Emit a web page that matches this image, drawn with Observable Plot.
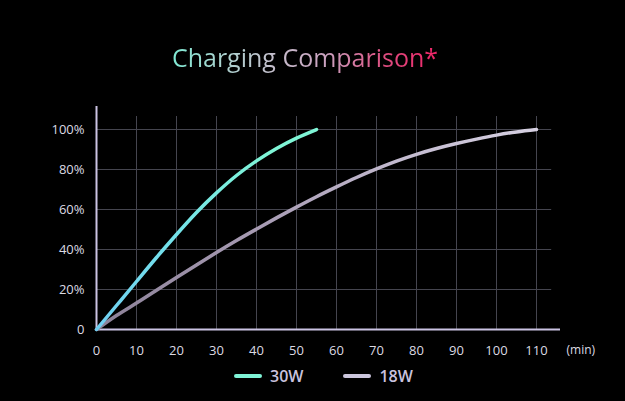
<!DOCTYPE html>
<html>
<head>
<meta charset="utf-8">
<script src="https://cdn.jsdelivr.net/npm/d3@7"></script>
<script src="https://cdn.jsdelivr.net/npm/@observablehq/plot@0.6"></script>
<style>
  html, body { margin: 0; padding: 0; background: #000; }
  body { width: 625px; height: 401px; overflow: hidden; font-family: "Open Sans", sans-serif; }
  #title { height: 95px; box-sizing: border-box; padding-top: 45px; line-height: 25px; text-align: center; padding-right: 15px; }
  #title span {
    font-size: 25px; font-weight: 400;
    background: linear-gradient(90deg, #7fe9d3 0%, #aad4d0 18%, #c6bccb 40%, #cba2c0 58%, #de4d80 80%, #f02468 100%);
    -webkit-background-clip: text; background-clip: text; color: transparent;
  }
  #chart svg { display: block; }
  #legend { display: flex; align-items: center; height: 32px; padding-left: 234px; }
  .item { display: flex; align-items: center; margin-right: 40px; }
  .sw { width: 28px; height: 4px; border-radius: 2px; margin-right: 8px; }
  .lab { font-size: 16px; font-weight: 600; color: #c9c2de; }
</style>
</head>
<body>
<div id="title"><span>Charging Comparison*</span></div>
<div id="chart"></div>
<div id="legend"></div>
<script>
// Data (minutes, % charged)
const t30 = [0, 5, 10, 15, 20, 25, 30, 35, 40, 45, 50, 55];
const v30 = [0, 12, 24, 36, 47.5, 58.5, 68.3, 77, 84.3, 90.5, 95.7, 100];
const t18 = [0, 5, 10, 15, 20, 25, 30, 35, 40, 45, 50, 55, 60, 65, 70, 75, 80, 85, 90, 95, 100, 105, 110];
const v18 = [0, 7, 13.2, 19.6, 26, 32.3, 38.5, 44.5, 50.2, 55.8, 61.2, 66.4, 71.3, 76, 80.3, 84.2, 87.6, 90.5, 93, 95.2, 97.2, 98.8, 100];
const xTicks = [0, 10, 20, 30, 40, 50, 60, 70, 80, 90, 100, 110];
const yTicks = [0, 20, 40, 60, 80, 100];
const seriesNames = ["30W", "18W"];
const seriesColors = ["#7ff3d6", "#ccc6dd"];

const d30 = t30.map((t, i) => ({t, v: v30[i]}));
const d18 = t18.map((t, i) => ({t, v: v18[i]}));

const grid = "#45454f";
const axisCol = "#cbc3e3";

const svg = Plot.plot({
  width: 625,
  height: 265,
  marginLeft: 96,
  marginRight: 65,
  marginTop: 11,
  marginBottom: 31,
  style: { background: "#000", color: "#dcdae3", fontSize: "13px", fontFamily: "Open Sans, sans-serif" },
  x: { domain: [0, 116], ticks: xTicks, tickSize: 0, tickPadding: 16, label: null },
  y: { domain: [0, 111.5], ticks: yTicks, tickSize: 0, tickPadding: 12, label: null,
       tickFormat: d => d === 0 ? "0" : d + "%" },
  marks: [
    Plot.ruleY(yTicks.filter(d => d > 0), { x1: 0, x2: 113.8, stroke: grid, strokeWidth: 1 }),
    Plot.ruleX(xTicks.filter(d => d > 0), { y1: 0, y2: 106.5, stroke: grid, strokeWidth: 1 }),
    Plot.ruleY([0], { x1: 0, x2: 116, stroke: axisCol, strokeWidth: 2 }),
    Plot.ruleX([0], { y1: 0, y2: 111.5, stroke: axisCol, strokeWidth: 2 }),
    Plot.line(d18, { x: "t", y: "v", curve: "natural", stroke: "url(#g18)", strokeWidth: 3.5, strokeLinecap: "round" }),
    Plot.line(d30, { x: "t", y: "v", curve: "natural", stroke: "url(#g30)", strokeWidth: 3.5, strokeLinecap: "round" }),
    Plot.text(["(min)"], { frameAnchor: "bottom-right", textAnchor: "start", dx: 6, dy: 24, fill: "#dcdae3", fontSize: 12 })
  ]
});

const defs = d3.select(svg).insert("defs", ":first-child");
const g30 = defs.append("linearGradient").attr("id", "g30").attr("x1", 0).attr("y1", 1).attr("x2", 0.6).attr("y2", 0);
g30.append("stop").attr("offset", "0%").attr("stop-color", "#70cff2");
g30.append("stop").attr("offset", "50%").attr("stop-color", "#74e2ea");
g30.append("stop").attr("offset", "100%").attr("stop-color", "#7ff5d6");
const g18 = defs.append("linearGradient").attr("id", "g18").attr("x1", 0).attr("y1", 1).attr("x2", 1).attr("y2", 0);
g18.append("stop").attr("offset", "0%").attr("stop-color", "#8c8198");
g18.append("stop").attr("offset", "45%").attr("stop-color", "#a89cb4");
g18.append("stop").attr("offset", "100%").attr("stop-color", "#d6d0e2");

document.getElementById("chart").appendChild(svg);

const legend = document.getElementById("legend");
seriesNames.forEach((name, i) => {
  const item = document.createElement("div");
  item.className = "item";
  item.innerHTML = `<div class="sw" style="background:${seriesColors[i]}"></div><span class="lab">${name}</span>`;
  legend.appendChild(item);
});
</script>
</body>
</html>
